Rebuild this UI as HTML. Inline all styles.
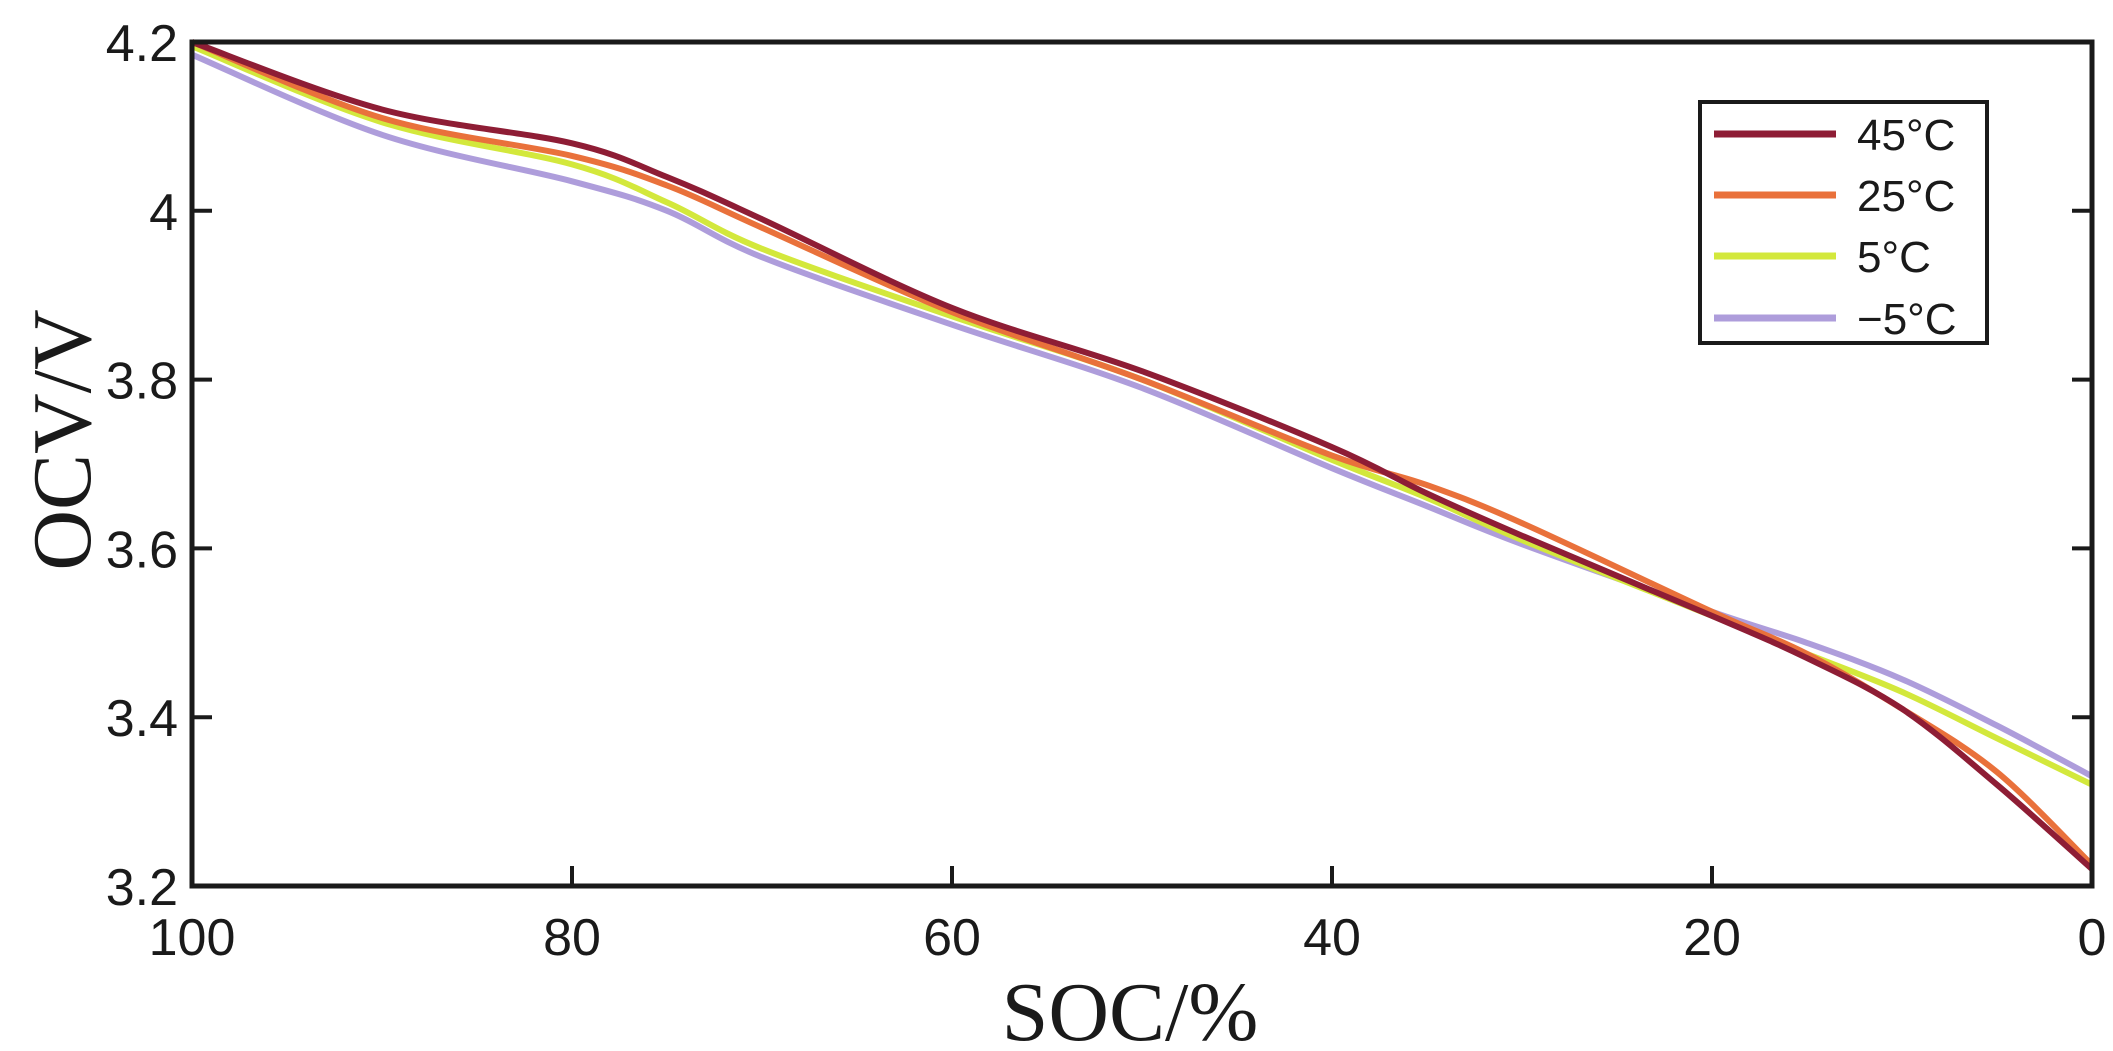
<!DOCTYPE html>
<html><head><meta charset="utf-8"><style>
html,body{margin:0;padding:0;background:#fff;}
svg{display:block;}
text{font-family:"Liberation Sans",Arial,sans-serif;fill:#1a1a1a;}
</style></head><body>
<svg id="chart" width="2113" height="1051" viewBox="0 0 2113 1051" xmlns="http://www.w3.org/2000/svg">
<g id="series"></g>
<g id="axes"></g>
<g id="legend"></g>
</svg>
<script>
const socValues = [100, 90, 80, 75, 70, 60, 50, 40, 35, 30, 20, 15, 10, 5, 0];
const ocv45 = [4.2, 4.12, 4.08, 4.04, 3.99, 3.885, 3.81, 3.72, 3.665, 3.615, 3.52, 3.47, 3.41, 3.32, 3.22];
const ocv25 = [4.2, 4.11, 4.065, 4.03, 3.98, 3.88, 3.80, 3.71, 3.675, 3.63, 3.525, 3.475, 3.41, 3.335, 3.225];
const ocv5 = [4.195, 4.105, 4.055, 4.01, 3.955, 3.875, 3.80, 3.705, 3.66, 3.61, 3.52, 3.475, 3.43, 3.375, 3.32];
const ocvm5 = [4.185, 4.09, 4.035, 4.0, 3.945, 3.865, 3.79, 3.695, 3.65, 3.605, 3.525, 3.488, 3.445, 3.39, 3.33];
const seriesNames = ["45°C", "25°C", "5°C", "\u22125°C"];
const xTicks = [100, 80, 60, 40, 20, 0];
const yTicks = [4.2, 4, 3.8, 3.6, 3.4, 3.2];
const yTickLabels = ["4.2", "4", "3.8", "3.6", "3.4", "3.2"];

const NS = "http://www.w3.org/2000/svg";
const L = 192, R = 2092, T = 42, B = 886;
function xs(v){ return R - (v - 0) / 100 * (R - L); }
function ys(v){ return B - (v - 3.2) / 1.0 * (B - T); }
function mk(tag, attrs, parent){
  const e = document.createElementNS(NS, tag);
  for (const k in attrs) e.setAttribute(k, attrs[k]);
  parent.appendChild(e); return e;
}
function smoothPath(xv, yv){
  const p = xv.map((x,i)=>[xs(x), ys(yv[i])]);
  let d = "M" + p[0][0].toFixed(1) + "," + p[0][1].toFixed(1);
  for (let i = 0; i < p.length - 1; i++){
    const p0 = p[i-1] || p[i], p1 = p[i], p2 = p[i+1], p3 = p[i+2] || p[i+1];
    const c1 = [p1[0] + (p2[0]-p0[0])/6, p1[1] + (p2[1]-p0[1])/6];
    const c2 = [p2[0] - (p3[0]-p1[0])/6, p2[1] - (p3[1]-p1[1])/6];
    d += " C" + c1[0].toFixed(1)+","+c1[1].toFixed(1)+" "+c2[0].toFixed(1)+","+c2[1].toFixed(1)+" "+p2[0].toFixed(1)+","+p2[1].toFixed(1);
  }
  return d;
}
const colors = ["#8e1d35", "#e9713b", "#d3e83c", "#ae9ddb"];
const data = [ocv45, ocv25, ocv5, ocvm5];
const sg = document.getElementById("series");
const seriesIds = ["line-45c", "line-25c", "line-5c", "line-minus5c"];
[3,2,1,0].forEach(i=>{
  const path = mk("path", {d: smoothPath(socValues, data[i]), fill:"none", stroke: colors[i], "stroke-width": 6, "stroke-linejoin":"round"}, sg);
  
  
});

const ag = document.getElementById("axes");
const frame = mk("rect", {x:L, y:T, width:R-L, height:B-T, fill:"none", stroke:"#1a1a1a", "stroke-width":5}, ag);


xTicks.forEach((v,i)=>{
  const x = xs(v);
  const t1 = mk("line", {x1:x, y1:B, x2:x, y2:B-20, stroke:"#1a1a1a", "stroke-width":4}, ag);
  
  
  const lb = mk("text", {x:x, y:955, "font-size":52, "text-anchor":"middle"}, ag);
  lb.textContent = String(v);
  
  
});
yTicks.forEach((v,i)=>{
  const y = ys(v);
  const t1 = mk("line", {x1:L, y1:y, x2:L+20, y2:y, stroke:"#1a1a1a", "stroke-width":4}, ag);
  
  
  const t2 = mk("line", {x1:R, y1:y, x2:R-20, y2:y, stroke:"#1a1a1a", "stroke-width":4}, ag);
  
  
  const lb = mk("text", {x:178, y:y+19, "font-size":52, "text-anchor":"end"}, ag);
  lb.textContent = yTickLabels[i];
  
  
});
const xt = mk("text", {x:1130, y:1040, "font-size":84, "text-anchor":"middle", style:"font-family:'Liberation Serif',serif"}, ag);
xt.textContent = "SOC/%";


const yt = mk("text", {x:0, y:0, "font-size":84, "text-anchor":"middle", transform:"translate(90,440) rotate(-90)", style:"font-family:'Liberation Serif',serif"}, ag);
yt.textContent = "OCV/V";



const lg = document.getElementById("legend");
const box = mk("rect", {x:1700, y:102, width:287, height:241, fill:"#fff", stroke:"#1a1a1a", "stroke-width":4}, lg);


const rowY = [134, 195, 256, 318];
seriesNames.forEach((n,i)=>{
  const ln = mk("line", {x1:1714, y1:rowY[i], x2:1836, y2:rowY[i], stroke:colors[i], "stroke-width":7}, lg);
  
  
  const tx = mk("text", {x:1857, y:rowY[i]+16, "font-size":44}, lg);
  tx.textContent = n;
  
  
});
</script>
</body></html>
